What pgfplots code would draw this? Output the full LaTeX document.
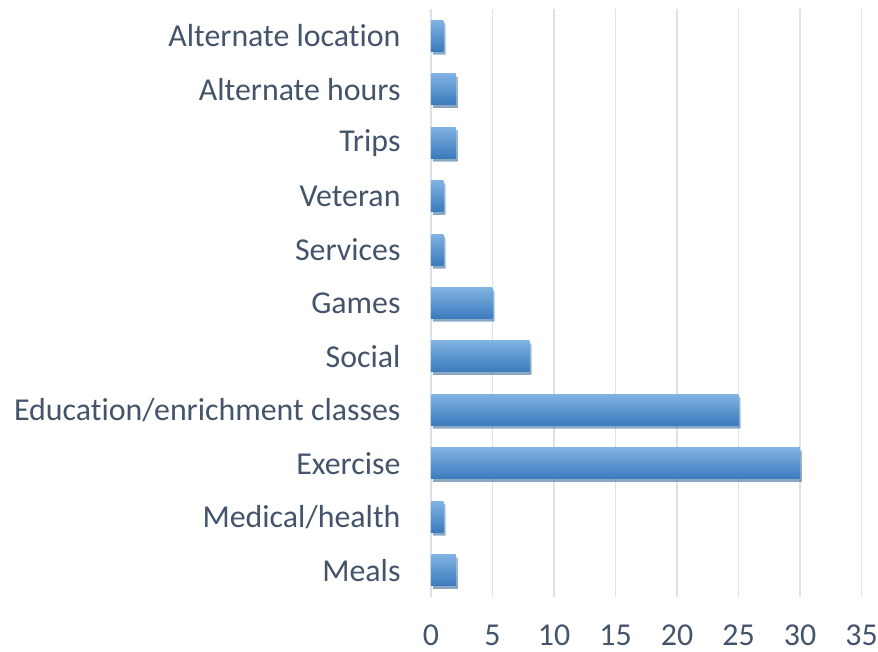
\documentclass[border=0pt]{standalone}
\usepackage{pgfplots}
\pgfplotsset{compat=1.18}
\usepackage{fontspec}
\setmainfont{Carlito}[Ligatures={NoCommon,NoRare}]
\usetikzlibrary{shadows}
\definecolor{txt}{HTML}{44546A}
\definecolor{gridc}{HTML}{DDE1E8}
\definecolor{bartop}{HTML}{80B2E2}
\definecolor{barbot}{HTML}{3A7BBD}
\pgfplotsset{onebar/.style={draw=none, bar shift=0pt, top color=bartop, bottom color=barbot,
  drop shadow={shadow xshift=2bp, shadow yshift=-3bp, opacity=0.4, fill=black!60}}}
\begin{document}
\begin{tikzpicture}
\begin{axis}[
  at={(0,0)}, anchor=south west,
  scale only axis, width=430.5bp, height=588bp,
  xbar, bar width=31bp,
  xmin=0, xmax=35, ymin=-0.5, ymax=10.5,
  xtick={0,5,...,35},
  ytick={0,...,10},
  yticklabels={Meals,Medical/health,Exercise,Education/enrichment classes,Social,Games,Services,Veteran,Trips,Alternate hours,Alternate location},
  axis line style={draw=none},
  major tick length=0pt,
  xmajorgrids, grid style={gridc, line width=1.5bp},
  ymajorgrids=false,
  ticklabel style={font=\fontsize{32}{36}\selectfont, text=txt},
  xticklabel style={yshift=-28bp, text depth=0pt, inner sep=0pt, outer sep=0pt},
  yticklabel style={xshift=-27bp},
  /pgf/number format/assume math mode=true,
  clip=false,
]
\addplot[onebar] coordinates {(2,0)};
\addplot[onebar] coordinates {(1,1)};
\addplot[onebar] coordinates {(30,2)};
\addplot[onebar] coordinates {(25,3)};
\addplot[onebar] coordinates {(8,4)};
\addplot[onebar] coordinates {(5,5)};
\addplot[onebar] coordinates {(1,6)};
\addplot[onebar] coordinates {(1,7)};
\addplot[onebar] coordinates {(2,8)};
\addplot[onebar] coordinates {(2,9)};
\addplot[onebar] coordinates {(1,10)};
\end{axis}
\pgfresetboundingbox
\useasboundingbox (-431bp,-55bp) rectangle (447bp,597bp);
\end{tikzpicture}
\end{document}
